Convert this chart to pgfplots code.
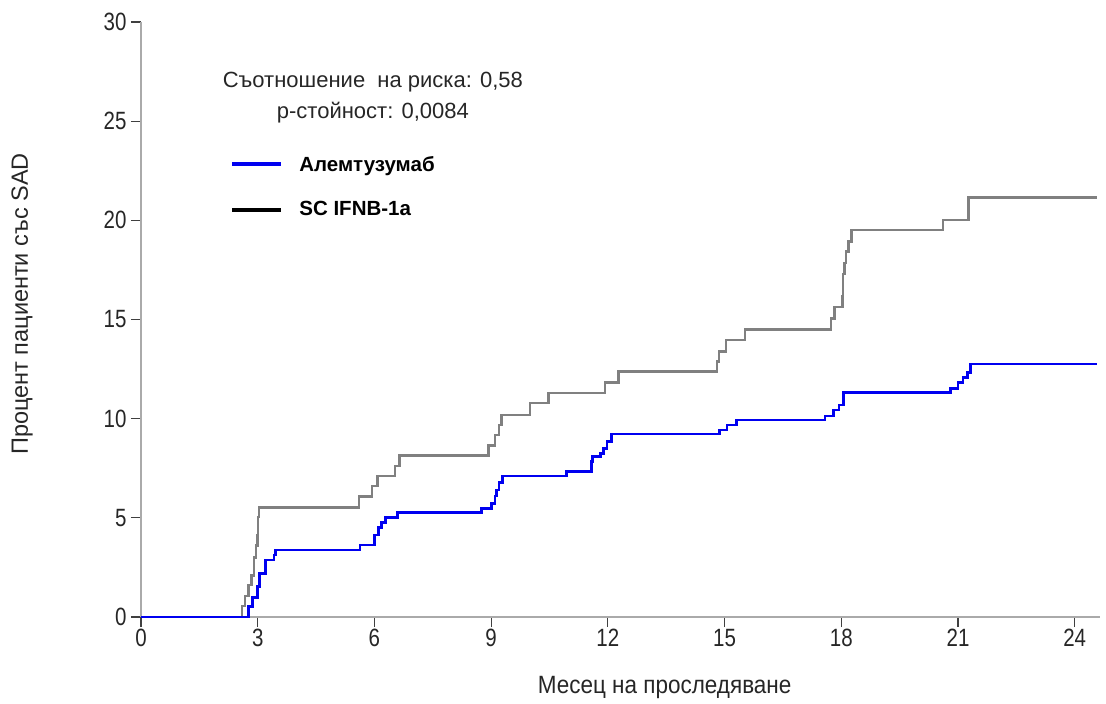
\documentclass[border=0pt]{standalone}
\usepackage{pgfplots}
\pgfplotsset{compat=1.18}
\usepackage{fontspec}
\setmainfont{Liberation Sans}
\newfontfamily\narrowfont[FakeStretch=0.82]{Liberation Sans}
\newfontfamily\xlabfont[FakeStretch=0.9]{Liberation Sans}
\definecolor{kmgrey}{RGB}{128,128,128}
\definecolor{kmblue}{RGB}{0,0,240}
\definecolor{axgrey}{RGB}{170,170,170}
\begin{document}
\begin{tikzpicture}
\useasboundingbox (0,0) rectangle (1106pt,704pt);
\begin{axis}[
  at={(141pt,87pt)}, anchor=south west,
  scale only axis, width=959pt, height=595pt,
  xmin=0, xmax=24.65, ymin=0, ymax=30,
  axis x line*=bottom, axis y line*=left,
  axis line style={axgrey, line width=1.6pt},
  xtick={0,3,...,24}, ytick={0,5,...,30},
  tick align=outside, major tick length=10pt,
  tick style={black!75, line width=1.2pt},
  /pgf/number format/assume math mode=true,
  tick label style={font=\narrowfont\fontsize{25}{25}\selectfont, black!85},
  xticklabel style={yshift=1pt},
  yticklabel style={xshift=-1pt},
  xlabel={Месец на проследяване},
  xlabel style={font=\xlabfont\fontsize{25}{25}\selectfont, at={(axis description cs:0.546,-0.119)}, anchor=center, black!85},
  ylabel={Процент пациенти със SAD},
  ylabel style={font=\fontsize{23.5}{23.5}\selectfont, at={(axis description cs:-0.124,0.526)}, anchor=center, rotate=0, black!85},
  legend style={draw=none, fill=none, at={(axis description cs:0.093,0.775)}, anchor=north west,
    font=\bfseries\fontsize{20.5}{20.5}\selectfont, row sep=29pt, inner sep=0pt,
    nodes={inner sep=0pt}},
  legend cell align=left,
  legend image code/.code={\draw[#1] (0pt,0pt) -- (49pt,0pt);},
  /tikz/every odd column/.append style={column sep=16pt},
  clip=false,
]
\addplot[const plot, kmgrey, line width=2.4pt, forget plot] coordinates {
(0,0)(2.60,0.55)(2.68,1.05)(2.76,1.6)(2.84,2.1)(2.90,3.0)(2.95,3.6)(2.99,4.1)(3.01,5.05)(3.04,5.53)
(5.61,6.07)(5.93,6.6)(6.08,7.1)(6.53,7.6)(6.64,8.15)
(8.93,8.65)(9.10,9.18)(9.20,9.68)(9.27,10.19)
(10.0,10.78)(10.47,11.28)(11.93,11.82)(12.27,12.37)
(14.8,12.88)(14.85,13.38)(15.04,13.97)(15.53,14.5)
(17.73,15.06)(17.83,15.62)(18.03,16.15)(18.05,17.3)(18.08,17.84)(18.12,18.42)(18.19,18.93)(18.26,19.52)
(20.62,20.02)(21.27,21.16)(24.57,21.16)
};
\addplot[const plot, kmblue, line width=2.8pt, forget plot] coordinates {
(0,0)(2.76,0.52)(2.87,0.99)(3.0,1.53)(3.04,2.2)(3.21,2.87)(3.42,3.13)(3.46,3.38)
(5.63,3.63)(6.01,4.13)(6.10,4.52)(6.18,4.76)(6.29,5.03)(6.59,5.26)
(8.76,5.48)(9.01,5.73)(9.10,6.1)(9.14,6.4)(9.2,6.8)(9.3,7.11)
(10.93,7.33)(11.57,7.83)(11.6,8.08)(11.81,8.25)(11.89,8.5)(11.98,8.84)(12.09,9.23)
(14.87,9.43)(15.06,9.68)(15.3,9.93)
(17.58,10.13)(17.8,10.44)(17.94,10.69)(18.05,11.33)
(20.8,11.53)(21.0,11.82)(21.13,12.07)(21.25,12.32)(21.33,12.76)(24.57,12.76)
};
\addlegendimage{kmblue, line width=4pt}
\addlegendentry{Алемтузумаб}
\addlegendimage{black, line width=4pt}
\addlegendentry{SC IFNB-1a}
\node[font=\fontsize{22}{22}\selectfont, black!85] at (axis cs:5.96,26.98) {Съотношение\ \ на риска: 0,58};
\node[font=\fontsize{22}{22}\selectfont, black!85] at (axis cs:5.96,25.42) {p-стойност: 0,0084};
\end{axis}
\end{tikzpicture}
\end{document}
